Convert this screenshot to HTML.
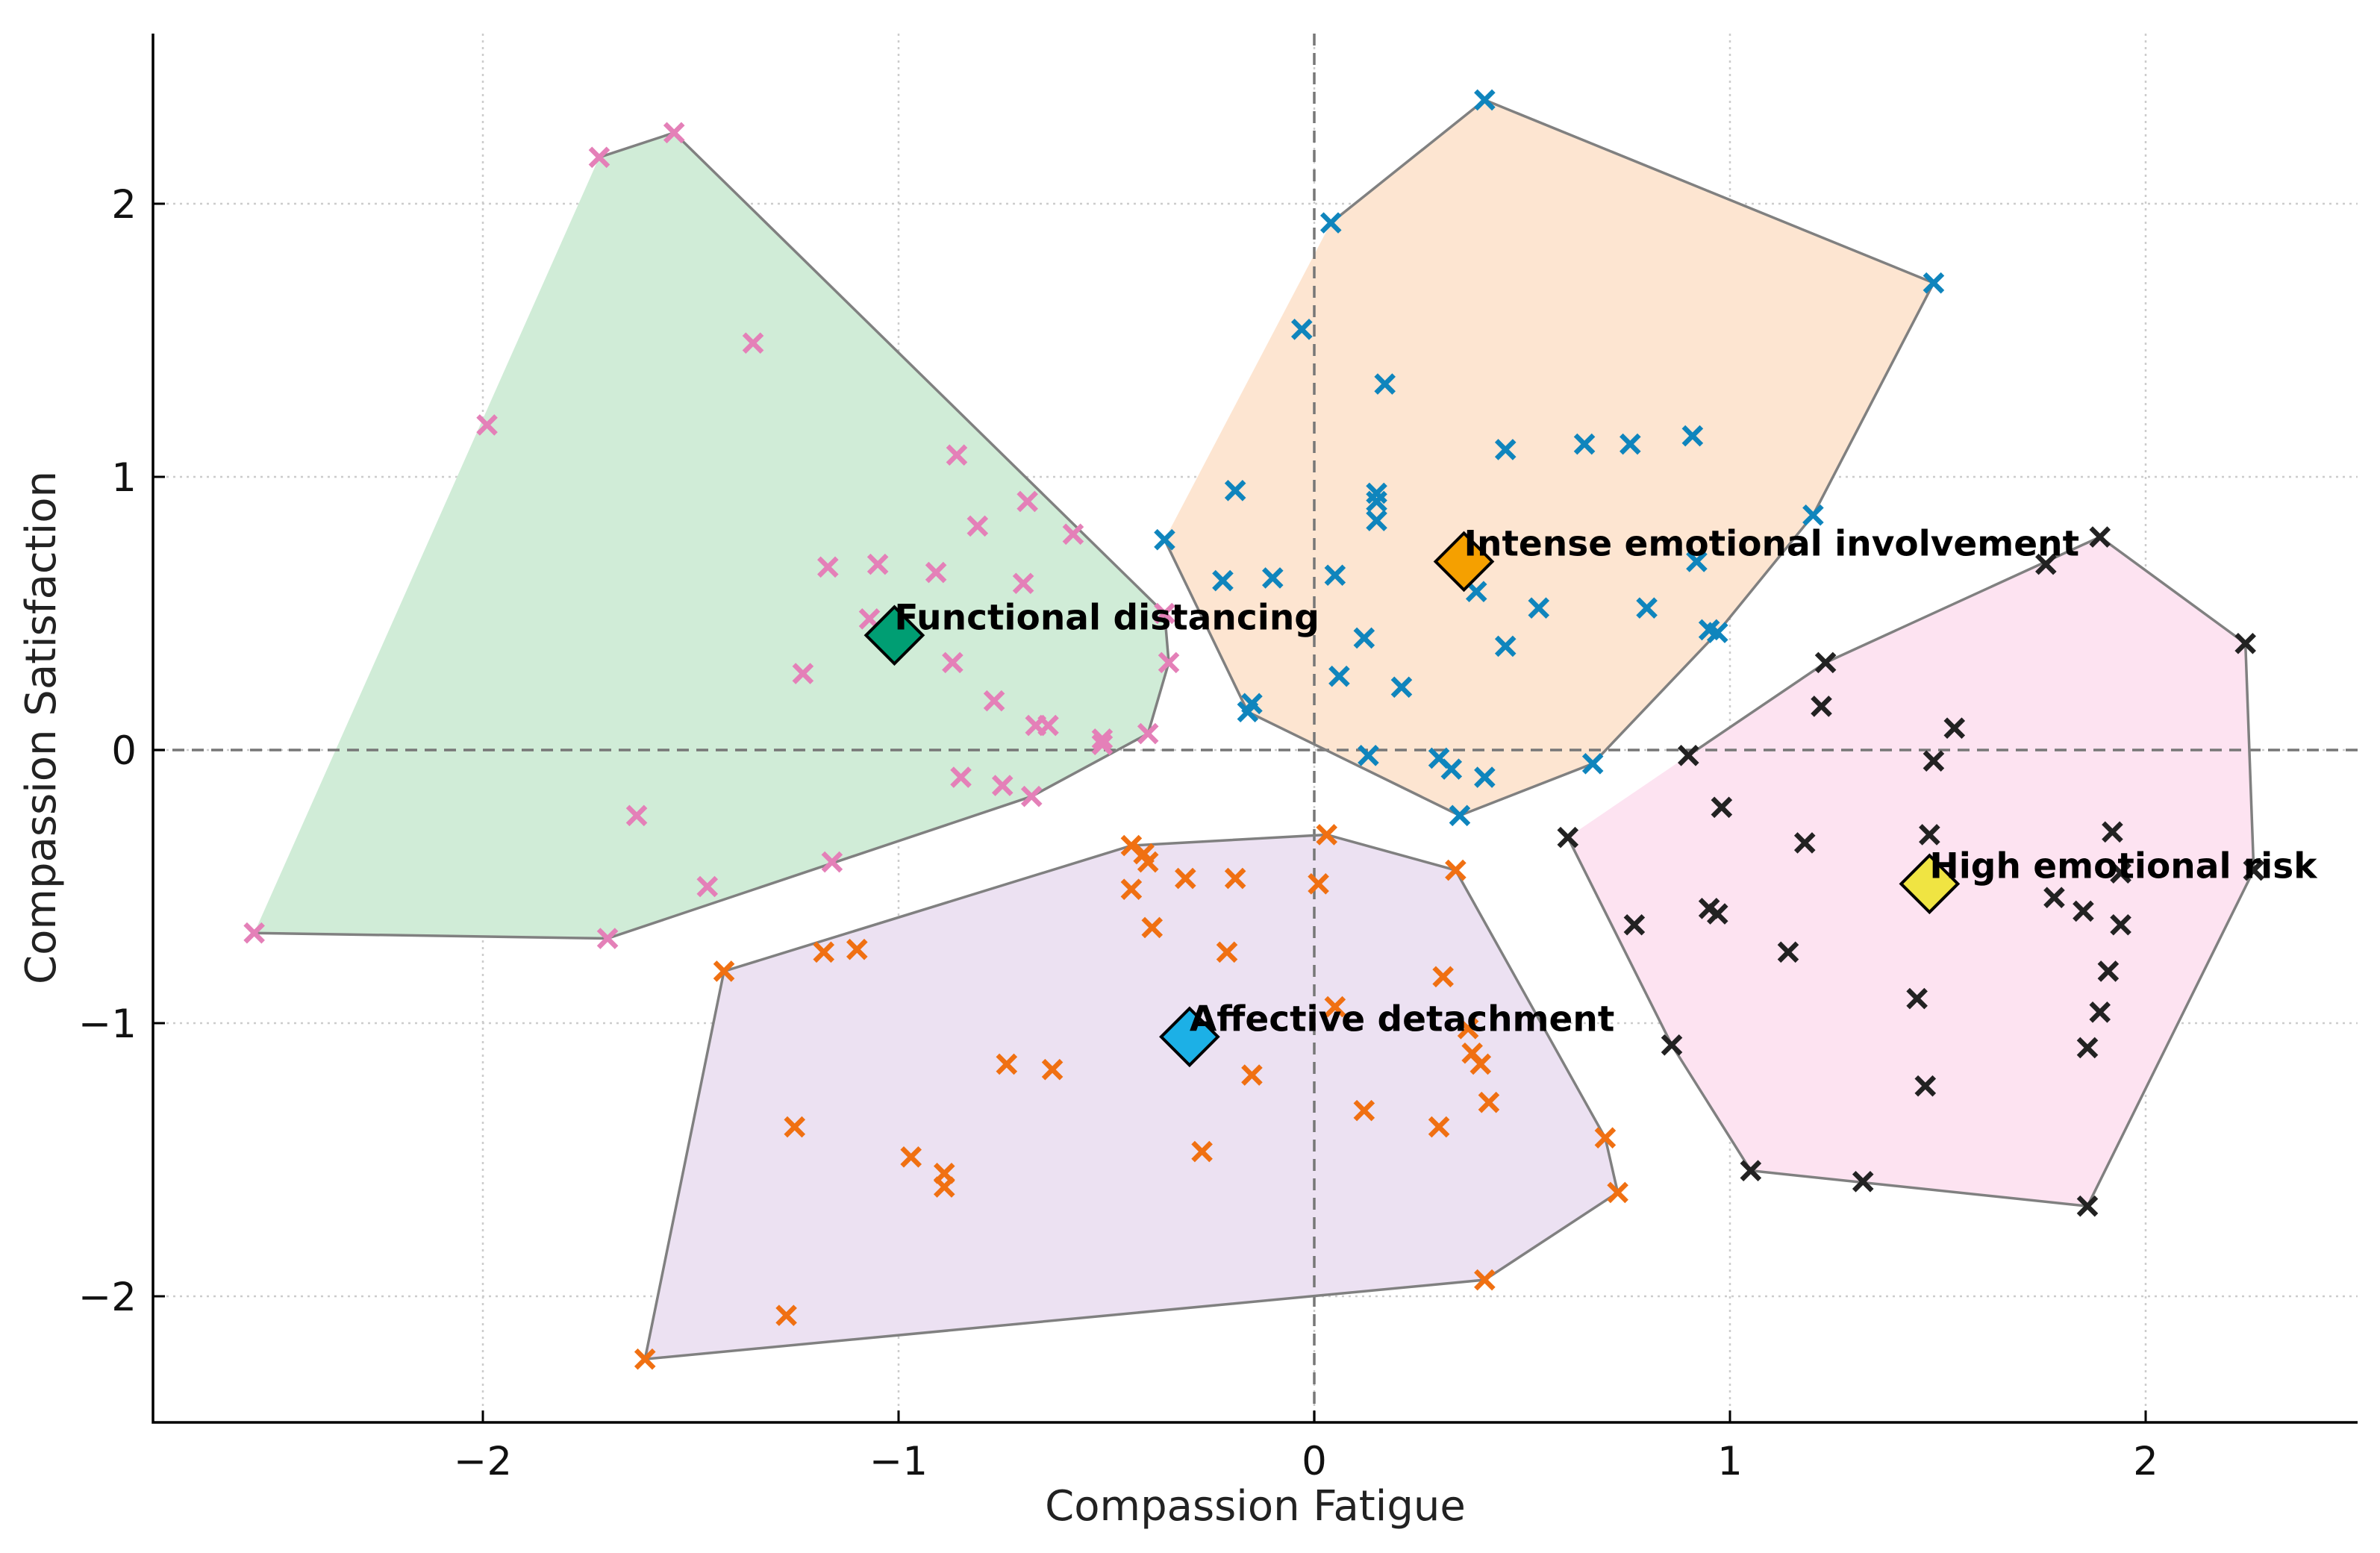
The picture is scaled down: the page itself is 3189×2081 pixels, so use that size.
<!DOCTYPE html>
<html><head><meta charset="utf-8">
<style>
html,body{margin:0;padding:0;background:#fff;}
svg{display:block;}
text{font-family:"DejaVu Sans","Liberation Sans",sans-serif;}
</style></head>
<body>
<svg id="chart" width="3189" height="2081" viewBox="0 0 3189 2081" xmlns="http://www.w3.org/2000/svg"></svg>
<script>
const xTicks = [-2, -1, 0, 1, 2];
const yTicks = [-2, -1, 0, 1, 2];
const tickLabels = ["\u22122", "\u22121", "0", "1", "2"];

const pinkX = [-2.55,-1.72,-1.54,-1.35,-1.99,-1.17,-1.05,-1.23,-1.07,-0.91,-0.86,-0.81,-0.69,-0.58,-0.70,-0.87,-0.77,-0.64,-0.67,-0.51,-0.51,-0.40,-0.35,-0.85,-0.75,-0.68,-1.63,-1.46,-1.16,-1.70,-0.36];
const pinkY = [-0.67,2.17,2.26,1.49,1.19,0.67,0.68,0.28,0.48,0.65,1.08,0.82,0.91,0.79,0.61,0.32,0.18,0.09,0.09,0.04,0.02,0.06,0.32,-0.10,-0.13,-0.17,-0.24,-0.50,-0.41,-0.69,0.50];

const blueX = [0.41,0.04,1.49,-0.03,0.17,0.46,0.65,0.76,0.91,-0.19,0.15,0.15,0.15,1.20,-0.36,-0.22,-0.10,0.05,0.39,0.92,0.54,0.80,0.95,0.97,0.12,0.46,0.06,0.21,-0.15,-0.16,0.13,0.30,0.33,0.41,0.67,0.35];
const blueY = [2.38,1.93,1.71,1.54,1.34,1.10,1.12,1.12,1.15,0.95,0.94,0.91,0.84,0.86,0.77,0.62,0.63,0.64,0.58,0.69,0.52,0.52,0.44,0.43,0.41,0.38,0.27,0.23,0.17,0.14,-0.02,-0.03,-0.07,-0.10,-0.05,-0.24];

const blackX = [1.89,1.76,2.24,1.23,1.22,1.54,0.90,1.49,0.61,0.98,1.18,1.48,1.92,1.94,1.78,1.85,1.94,0.95,0.97,0.77,1.14,1.91,1.89,1.45,1.86,0.86,1.47,1.05,1.32,1.86,2.26];
const blackY = [0.78,0.68,0.39,0.32,0.16,0.08,-0.02,-0.04,-0.32,-0.21,-0.34,-0.31,-0.30,-0.45,-0.54,-0.59,-0.64,-0.58,-0.60,-0.64,-0.74,-0.81,-0.96,-0.91,-1.09,-1.08,-1.23,-1.54,-1.58,-1.67,-0.44];

const orangeX = [0.03,-0.44,-0.41,-0.40,-0.44,-0.31,-0.19,0.01,0.34,-0.39,-1.42,-1.18,-1.10,-0.21,0.31,0.05,0.37,0.38,0.40,-0.74,-0.63,-0.15,0.12,0.42,0.30,-1.25,0.70,-0.27,-0.97,-0.89,-0.89,0.73,0.41,-1.27,-1.61];
const orangeY = [-0.31,-0.35,-0.38,-0.41,-0.51,-0.47,-0.47,-0.49,-0.44,-0.65,-0.81,-0.74,-0.73,-0.74,-0.83,-0.94,-1.02,-1.11,-1.15,-1.15,-1.17,-1.19,-1.32,-1.29,-1.38,-1.38,-1.42,-1.47,-1.49,-1.55,-1.60,-1.62,-1.94,-2.07,-2.23];

const centroidNames = ["Functional distancing","Intense emotional involvement","Affective detachment","High emotional risk"];
const centroidX = [-1.01, 0.36, -0.30, 1.48];
const centroidY = [0.42, 0.69, -1.05, -0.49];

const X0 = 1761, XU = 557, Y0 = 1005, YU = 366;
const LEFT = 205, RIGHT = 3159, TOP = 45, BOTTOM = 1906;
function sx(v){ return X0 + v*XU; }
function sy(v){ return Y0 - v*YU; }

const svg = document.getElementById('chart');
const NS = "http://www.w3.org/2000/svg";
function mk(tag, attrs, parent){
  const e = document.createElementNS(NS, tag);
  for (const k in attrs) e.setAttribute(k, attrs[k]);
  (parent||svg).appendChild(e);
  return e;
}

const grid = mk('g', {});


xTicks.forEach(t => {
  const l = mk('line', {x1:sx(t), x2:sx(t), y1:TOP, y2:BOTTOM, stroke:'#cccccc', 'stroke-width':2.5, 'stroke-dasharray':'3,6'}, grid);
  
  
});
yTicks.forEach(t => {
  const l = mk('line', {x1:LEFT, x2:RIGHT, y1:sy(t), y2:sy(t), stroke:'#cccccc', 'stroke-width':2.5, 'stroke-dasharray':'3,6'}, grid);
  
  
});

function hull(xs, ys){
  const p = xs.map((x,i)=>[x, ys[i]]).sort((a,b)=>a[0]-b[0]||a[1]-b[1]);
  const cr=(o,a,b)=>(a[0]-o[0])*(b[1]-o[1])-(a[1]-o[1])*(b[0]-o[0]);
  const lo=[],up=[];
  for(const q of p){ while(lo.length>=2&&cr(lo[lo.length-2],lo[lo.length-1],q)<=0) lo.pop(); lo.push(q); }
  for(let i=p.length-1;i>=0;i--){ const q=p[i]; while(up.length>=2&&cr(up[up.length-2],up[up.length-1],q)<=0) up.pop(); up.push(q); }
  up.pop(); lo.pop();
  return lo.concat(up);
}

const clusters = [
  {name:'functional-distancing', xs:pinkX, ys:pinkY, fill:'#d0ecd7', mark:'#e480b8', gap:true},
  {name:'intense-involvement', xs:blueX, ys:blueY, fill:'#fde5d1', mark:'#0f85bd', gap:true},
  {name:'affective-detachment', xs:orangeX, ys:orangeY, fill:'#ece1f2', mark:'#f07012', gap:false},
  {name:'high-emotional-risk', xs:blackX, ys:blackY, fill:'#fde3f1', mark:'#222222', gap:true}
];

clusters.forEach(c => {
  const h = hull(c.xs, c.ys);
  const pg = mk('polygon', {points: h.map(p=>sx(p[0])+','+sy(p[1])).join(' '), fill:c.fill, stroke:'none'});
  
  
});

const zx = mk('line', {x1:sx(0), x2:sx(0), y1:TOP, y2:BOTTOM, stroke:'#777', 'stroke-width':3.5, 'stroke-dasharray':'16,10'});


const zy = mk('line', {x1:LEFT, x2:RIGHT, y1:sy(0), y2:sy(0), stroke:'#777', 'stroke-width':3.5, 'stroke-dasharray':'16,10'});



clusters.forEach(c => {
  const h = hull(c.xs, c.ys);
  const pts = h.map(p=>sx(p[0])+','+sy(p[1])).join(' ');
  const pg = mk(c.gap ? 'polyline' : 'polygon', {points: pts, fill:'none', stroke:'#808080', 'stroke-width':3.5});
  
  
  const g = mk('g', {stroke:c.mark, 'stroke-width':6.5, 'stroke-linecap':'butt'});
  
  
  c.xs.forEach((x,i) => {
    const px = sx(x), py = sy(c.ys[i]), r = 12;
    const p = mk('path', {d:`M${px-r},${py-r}L${px+r},${py+r}M${px-r},${py+r}L${px+r},${py-r}`}, g);
    
    
  });
});

const cColors = ['#009e73','#f5a000','#1cb0e6','#f0e442'];
centroidNames.forEach((n,i) => {
  const px = sx(centroidX[i]), py = sy(centroidY[i]), r = 38;
  const d = mk('polygon', {points:`${px},${py-r} ${px+r},${py} ${px},${py+r} ${px-r},${py}`, fill:cColors[i], stroke:'#000', 'stroke-width':4});
  
  
  const t = mk('text', {x:px, y:py-8, 'font-size':47, 'font-weight':'bold', fill:'#000'});
  t.textContent = n;
  
  
});

const ax = mk('path', {d:`M${LEFT},${TOP}L${LEFT},${BOTTOM}L${RIGHT},${BOTTOM}`, fill:'none', stroke:'#000', 'stroke-width':3.5});



xTicks.forEach((t,i) => {
  const l = mk('line', {x1:sx(t), x2:sx(t), y1:BOTTOM, y2:BOTTOM-16, stroke:'#000', 'stroke-width':3});
  
  
  const tx = mk('text', {x:sx(t), y:BOTTOM+70, 'font-size':53, 'text-anchor':'middle', fill:'#111'});
  tx.textContent = tickLabels[i];
  
  
});
yTicks.forEach((t,i) => {
  const l = mk('line', {x1:LEFT, x2:LEFT+16, y1:sy(t), y2:sy(t), stroke:'#000', 'stroke-width':3});
  
  
  const tx = mk('text', {x:LEFT-22, y:sy(t)+19, 'font-size':53, 'text-anchor':'end', fill:'#111'});
  tx.textContent = tickLabels[i];
  
  
});

const xt = mk('text', {x:1682, y:2037, 'font-size':56, 'text-anchor':'middle', fill:'#222'});
xt.textContent = 'Compassion Fatigue';


const yt = mk('text', {x:0, y:0, 'font-size':56, 'text-anchor':'middle', fill:'#222', transform:'translate(74,975) rotate(-90)'});
yt.textContent = 'Compassion Satisfaction';


</script>
</body></html>
